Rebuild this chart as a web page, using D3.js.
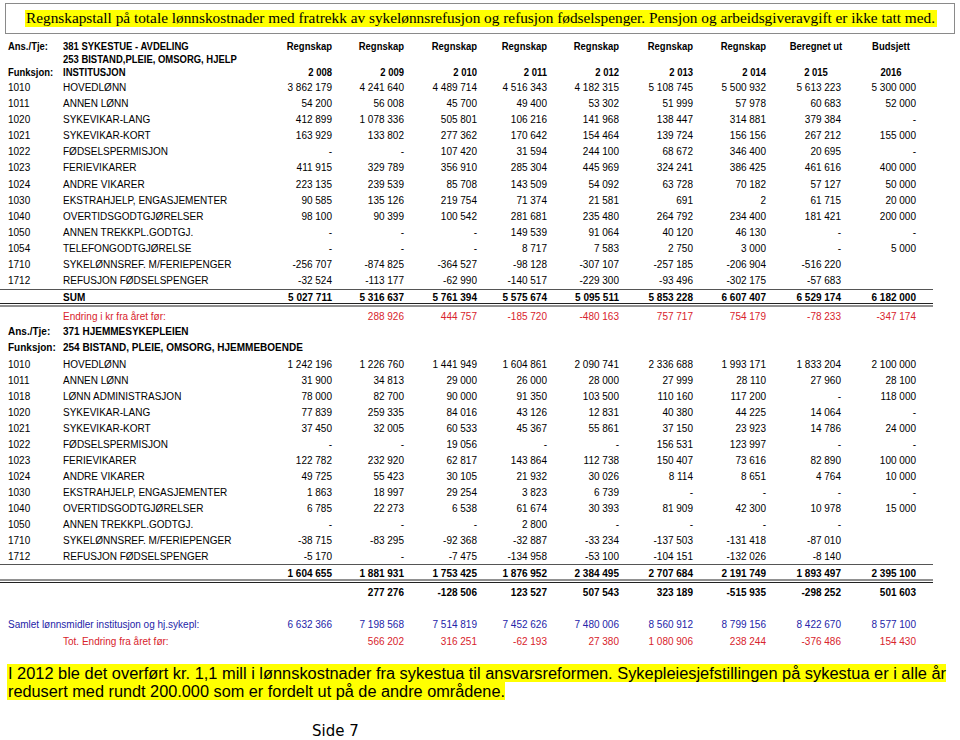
<!DOCTYPE html>
<html>
<head>
<meta charset="utf-8">
<script src="https://cdn.jsdelivr.net/npm/d3@7"></script>
<style>
  body { margin: 0; background: #fff; }
  svg { display: block; }
</style>
</head>
<body>
<svg id="chart" width="960" height="740"></svg>
<script>
// --- data ------------------------------------------------------------------
const colHeads = ['Regnskap', 'Regnskap', 'Regnskap', 'Regnskap', 'Regnskap', 'Regnskap', 'Regnskap', 'Beregnet ut', 'Budsjett'];
const yearLabels = ['2 008', '2 009', '2 010', '2 011', '2 012', '2 013', '2 014', '2 015', '2016'];

// null = "-" in the table, '' = empty cell
const sykestueCodes = ['1010', '1011', '1020', '1021', '1022', '1023', '1024', '1030', '1040', '1050', '1054', '1710', '1712'];
const sykestueLabels = ['HOVEDLØNN', 'ANNEN LØNN', 'SYKEVIKAR-LANG', 'SYKEVIKAR-KORT', 'FØDSELSPERMISJON', 'FERIEVIKARER',
  'ANDRE VIKARER', 'EKSTRAHJELP, ENGASJEMENTER', 'OVERTIDSGODTGJØRELSER', 'ANNEN TREKKPL.GODTGJ.', 'TELEFONGODTGJØRELSE',
  'SYKELØNNSREF. M/FERIEPENGER', 'REFUSJON FØDSELSPENGER'];
const sykestueValues = [
  [3862179, 4241640, 4489714, 4516343, 4182315, 5108745, 5500932, 5613223, 5300000],
  [54200, 56008, 45700, 49400, 53302, 51999, 57978, 60683, 52000],
  [412899, 1078336, 505801, 106216, 141968, 138447, 314881, 379384, null],
  [163929, 133802, 277362, 170642, 154464, 139724, 156156, 267212, 155000],
  [null, null, 107420, 31594, 244100, 68672, 346400, 20695, null],
  [411915, 329789, 356910, 285304, 445969, 324241, 386425, 461616, 400000],
  [223135, 239539, 85708, 143509, 54092, 63728, 70182, 57127, 50000],
  [90585, 135126, 219754, 71374, 21581, 691, 2, 61715, 20000],
  [98100, 90399, 100542, 281681, 235480, 264792, 234400, 181421, 200000],
  [null, null, null, 149539, 91064, 40120, 46130, null, null],
  [null, null, null, 8717, 7583, 2750, 3000, null, 5000],
  [-256707, -874825, -364527, -98128, -307107, -257185, -206904, -516220, ''],
  [-32524, -113177, -62990, -140517, -229300, -93496, -302175, -57683, '']
];
const sykestueSum = [5027711, 5316637, 5761394, 5575674, 5095511, 5853228, 6607407, 6529174, 6182000];
const sykestueChange = ['', 288926, 444757, -185720, -480163, 757717, 754179, -78233, -347174];

const hjemmeCodes = ['1010', '1011', '1018', '1020', '1021', '1022', '1023', '1024', '1030', '1040', '1050', '1710', '1712'];
const hjemmeLabels = ['HOVEDLØNN', 'ANNEN LØNN', 'LØNN ADMINISTRASJON', 'SYKEVIKAR-LANG', 'SYKEVIKAR-KORT', 'FØDSELSPERMISJON',
  'FERIEVIKARER', 'ANDRE VIKARER', 'EKSTRAHJELP, ENGASJEMENTER', 'OVERTIDSGODTGJØRELSER', 'ANNEN TREKKPL.GODTGJ.',
  'SYKELØNNSREF. M/FERIEPENGER', 'REFUSJON FØDSELSPENGER'];
const hjemmeValues = [
  [1242196, 1226760, 1441949, 1604861, 2090741, 2336688, 1993171, 1833204, 2100000],
  [31900, 34813, 29000, 26000, 28000, 27999, 28110, 27960, 28100],
  [78000, 82700, 90000, 91350, 103500, 110160, 117200, null, 118000],
  [77839, 259335, 84016, 43126, 12831, 40380, 44225, 14064, null],
  [37450, 32005, 60533, 45367, 55861, 37150, 23923, 14786, 24000],
  [null, null, 19056, null, null, 156531, 123997, null, null],
  [122782, 232920, 62817, 143864, 112738, 150407, 73616, 82890, 100000],
  [49725, 55423, 30105, 21932, 30026, 8114, 8651, 4764, 10000],
  [1863, 18997, 29254, 3823, 6739, null, null, null, null],
  [6785, 22273, 6538, 61674, 30393, 81909, 42300, 10978, 15000],
  [null, null, null, 2800, null, null, null, null, ''],
  [-38715, -83295, -92368, -32887, -33234, -137503, -131418, -87010, ''],
  [-5170, null, -7475, -134958, -53100, -104151, -132026, -8140, '']
];
const hjemmeSum = [1604655, 1881931, 1753425, 1876952, 2384495, 2707684, 2191749, 1893497, 2395100];
const hjemmeChange = ['', 277276, -128506, 123527, 507543, 323189, -515935, -298252, 501603];

const totalValues = [6632366, 7198568, 7514819, 7452626, 7480006, 8560912, 8799156, 8422670, 8577100];
const totalChange = ['', 566202, 316251, -62193, 27380, 1080906, 238244, -376486, 154430];

const titleText = 'Regnskapstall på totale lønnskostnader med fratrekk av sykelønnsrefusjon og refusjon fødselspenger. Pensjon og arbeidsgiveravgift er ikke tatt med.';
const noteLines = [
  'I 2012 ble det overført kr. 1,1 mill i lønnskostnader fra sykestua til ansvarsreformen. Sykepleiesjefstillingen på sykestua er i alle år',
  'redusert med rundt 200.000 som er fordelt ut på de andre områdene.'
];

// --- setup -------------------------------------------------------------------
const RED = '#d8232c';
const BLUE = '#2424a8';
const SANS = 'Liberation Sans, Arial, sans-serif';

const nb = d3.formatLocale({ decimal: ',', thousands: ' ', grouping: [3], currency: ['', ''], minus: '-' });
const fmt = nb.format(',d');
const cell = v => v === null ? '-' : (v === '' ? '' : fmt(v));

// no Arial Narrow here: squeeze the normal face instead
function condense(sel, k) {
  sel.each(function () {
    const w = this.getComputedTextLength();
    if (w > 0) d3.select(this).attr('textLength', w * k).attr('lengthAdjust', 'spacingAndGlyphs');
  });
}

const svg = d3.select('#chart');
svg.append('rect').attr('width', 960).attr('height', 740).attr('fill', '#fff');

// right edge of each value column
const x = d3.scaleOrdinal()
  .domain(d3.range(9))
  .range([332, 404, 477, 547, 619, 693, 766, 841, 916]);

const xCode = 8, xLabel = 63;

// title box
svg.append('rect').attr('x', 5.5).attr('y', 3.5).attr('width', 949).attr('height', 30)
  .attr('fill', 'none').attr('stroke', '#8a8a8a').attr('stroke-width', 1);
svg.append('rect').attr('x', 25).attr('y', 10).attr('width', 912).attr('height', 17).attr('fill', '#ffff00');
svg.append('text').attr('x', 26).attr('y', 23)
  .attr('font-family', 'Liberation Serif, Times New Roman, serif').attr('font-size', 15.5)
  .attr('textLength', 909).attr('lengthAdjust', 'spacingAndGlyphs')
  .text(titleText);

// header block of section 1
const head = svg.append('g').attr('font-family', SANS).attr('font-weight', 'bold').attr('font-size', 11);
head.append('text').attr('x', xCode).attr('y', 46.5).attr('dy', '0.35em').text('Ans./Tje:');
head.append('text').attr('x', xLabel).attr('y', 46.5).attr('dy', '0.35em').text('381 SYKESTUE - AVDELING');
head.append('text').attr('x', xLabel).attr('y', 59.5).attr('dy', '0.35em').text('253 BISTAND,PLEIE, OMSORG, HJELP');
head.append('text').attr('x', xCode).attr('y', 72).attr('dy', '0.35em').text('Funksjon:');
head.append('text').attr('x', xLabel).attr('y', 72).attr('dy', '0.35em').text('INSTITUSJON');

// column headings: Regnskap columns right aligned, the last two centred over the values
const headX = i => i < 7 ? x(i) : x(i) - 25;
head.selectAll('text.colhead').data(colHeads).join('text')
  .attr('class', 'colhead')
  .attr('x', (d, i) => headX(i)).attr('y', 46.5).attr('dy', '0.35em')
  .attr('text-anchor', (d, i) => i < 7 ? 'end' : 'middle')
  .text(d => d);
head.selectAll('text.year').data(yearLabels).join('text')
  .attr('class', 'year')
  .attr('x', (d, i) => headX(i)).attr('y', 72).attr('dy', '0.35em')
  .attr('text-anchor', (d, i) => i < 7 ? 'end' : 'middle')
  .text(d => d);
condense(head.selectAll('text'), 0.86);

// one row of nine numbers
function valueRow(g, values, yc, opts = {}) {
  g.append('g')
    .attr('fill', opts.color || '#000')
    .attr('font-weight', opts.bold ? 'bold' : 'normal')
    .selectAll('text').data(values).join('text')
    .attr('x', (d, i) => x(i)).attr('y', yc).attr('dy', '0.35em')
    .attr('text-anchor', 'end')
    .text(cell);
}

function section(codes, labels, values, y) {
  const g = svg.append('g').attr('font-family', SANS).attr('font-size', 10);
  const rows = g.selectAll('g.row').data(values).join('g').attr('class', 'row');
  rows.append('text').attr('x', xCode).attr('y', (d, i) => y(i)).attr('dy', '0.35em').text((d, i) => codes[i]);
  rows.append('text').attr('x', xLabel).attr('y', (d, i) => y(i)).attr('dy', '0.35em').text((d, i) => labels[i]);
  rows.each(function (d, i) { valueRow(d3.select(this), d, y(i)); });
  return g;
}

function rules(yTop, yDouble) {
  svg.append('line').attr('x1', 0).attr('x2', 933).attr('y1', yTop).attr('y2', yTop)
    .attr('stroke', '#555').attr('stroke-width', 1);
  [yDouble, yDouble + 2.5].forEach(yy => {
    svg.append('line').attr('x1', 0).attr('x2', 933).attr('y1', yy).attr('y2', yy)
      .attr('stroke', '#222').attr('stroke-width', 1);
  });
}

// --- section 1: 381 Sykestue --------------------------------------------------
const y1 = d3.scaleLinear().domain([0, 12]).range([87.5, 280.5]);
const s1 = section(sykestueCodes, sykestueLabels, sykestueValues, y1);
rules(289.5, 303.5);
s1.append('text').attr('x', xLabel).attr('y', 297).attr('dy', '0.35em').attr('font-weight', 'bold').text('SUM');
valueRow(s1, sykestueSum, 297, { bold: true });
s1.append('text').attr('x', xLabel).attr('y', 316).attr('dy', '0.35em').attr('fill', RED).text('Endring i kr fra året før:');
valueRow(s1, sykestueChange, 316, { color: RED });

// --- section 2: 371 Hjemmesykepleien -----------------------------------------
const s2head = svg.append('g').attr('font-family', SANS).attr('font-size', 10).attr('font-weight', 'bold');
s2head.append('text').attr('x', xCode).attr('y', 331).attr('dy', '0.35em').text('Ans./Tje:');
s2head.append('text').attr('x', xLabel).attr('y', 331).attr('dy', '0.35em').text('371 HJEMMESYKEPLEIEN');
s2head.append('text').attr('x', xCode).attr('y', 347).attr('dy', '0.35em').text('Funksjon:');
s2head.append('text').attr('x', xLabel).attr('y', 347).attr('dy', '0.35em').text('254 BISTAND, PLEIE, OMSORG, HJEMMEBOENDE');

const y2 = d3.scaleLinear().domain([0, 12]).range([364, 556]);
const s2 = section(hjemmeCodes, hjemmeLabels, hjemmeValues, y2);
rules(564.5, 580);
valueRow(s2, hjemmeSum, 573, { bold: true });
valueRow(s2, hjemmeChange, 592, { bold: true });

// --- totals ------------------------------------------------------------------
const tot = svg.append('g').attr('font-family', SANS).attr('font-size', 10);
tot.append('text').attr('x', xCode).attr('y', 624).attr('dy', '0.35em').attr('fill', BLUE).text('Samlet lønnsmidler institusjon og hj.sykepl:');
valueRow(tot, totalValues, 624, { color: BLUE });
tot.append('text').attr('x', xLabel).attr('y', 641).attr('dy', '0.35em').attr('fill', RED).text('Tot. Endring fra året før:');
valueRow(tot, totalChange, 641, { color: RED });

// --- note ----------------------------------------------------------------------
const noteW = [938, 497];
const note = svg.append('g');
note.selectAll('rect').data(noteLines).join('rect')
  .attr('x', 7).attr('y', (d, i) => 664 + i * 18).attr('width', (d, i) => noteW[i] + 1).attr('height', 18)
  .attr('fill', '#ffff00');
note.selectAll('text').data(noteLines).join('text')
  .attr('x', 8).attr('y', (d, i) => 673 + i * 18).attr('dy', '0.35em')
  .attr('font-family', SANS).attr('font-size', 16)
  .attr('textLength', (d, i) => noteW[i]).attr('lengthAdjust', 'spacingAndGlyphs')
  .text(d => d);

svg.append('text').attr('x', 312).attr('y', 731).attr('dy', '0.35em')
  .attr('font-family', 'DejaVu Sans, sans-serif').attr('font-size', 15)
  .text('Side 7');
</script>
</body>
</html>
